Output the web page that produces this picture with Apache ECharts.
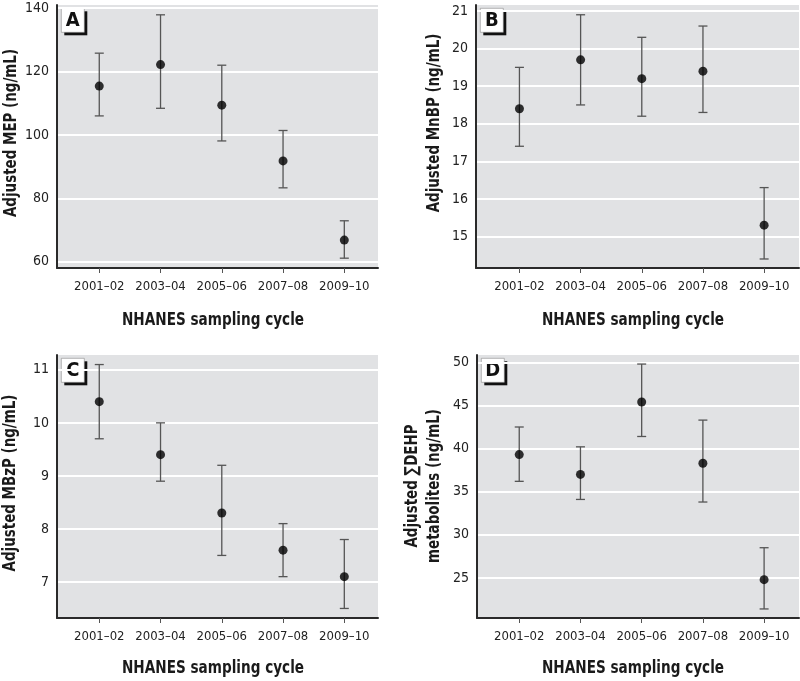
<!DOCTYPE html>
<html><head><meta charset="utf-8">
<script src="https://cdn.jsdelivr.net/npm/echarts@6/dist/echarts.min.js"></script>
<style>html,body{margin:0;padding:0;background:#fff}#c{width:800px;height:681px}</style>
</head><body><div id="c"></div>
<script>
const categories = ['2001–02','2003–04','2005–06','2007–08','2009–10'];
const catIndex = [0,1,2,3,4];

const mepMean = [115.4,122.2,109.4,91.8,66.8];
const mepLow  = [106.0,108.4,98.1,83.3,61.1];
const mepHigh = [125.8,137.9,122.0,101.4,72.9];
const mepTicks = [60,80,100,120,140];

const mnbpMean = [18.4,19.7,19.2,19.4,15.3];
const mnbpLow  = [17.4,18.5,18.2,18.3,14.4];
const mnbpHigh = [19.5,20.9,20.3,20.6,16.3];
const mnbpTicks = [15,16,17,18,19,20,21];

const mbzpMean = [10.4,9.4,8.3,7.6,7.1];
const mbzpLow  = [9.7,8.9,7.5,7.1,6.5];
const mbzpHigh = [11.1,10.0,9.2,8.1,7.8];
const mbzpTicks = [7,8,9,10,11];

const dehpMean = [39.3,37.0,45.4,38.3,24.8];
const dehpLow  = [36.2,34.1,41.4,33.8,21.4];
const dehpHigh = [42.5,40.2,49.8,43.3,28.5];
const dehpTicks = [25,30,35,40,45,50];

const panelLetters = ['A','B','C','D'];
const yTitles = ['Adjusted MEP (ng/mL)','Adjusted MnBP (ng/mL)','Adjusted MBzP (ng/mL)','Adjusted \u2211DEHP\nmetabolites (ng/mL)'];
const xTitle = 'NHANES sampling cycle';

const FONT = '"Liberation Sans Narrow","DejaVu Sans Condensed","Roboto Condensed",sans-serif';

const panels = [
  {mean:mepMean, low:mepLow, high:mepHigh, ticks:mepTicks, ymin:58.0, ymax:141.0, xmin:-0.69, xmax:4.55,
   grid:{left:57, top:5, width:321, height:263}, yT:[11,133], xT:[213,320]},
  {mean:mnbpMean, low:mnbpLow, high:mnbpHigh, ticks:mnbpTicks, ymin:14.16, ymax:21.16, xmin:-0.71, xmax:4.57,
   grid:{left:476, top:5, width:323, height:263}, yT:[434,123], xT:[633,320]},
  {mean:mbzpMean, low:mbzpLow, high:mbzpHigh, ticks:mbzpTicks, ymin:6.32, ymax:11.28, xmin:-0.69, xmax:4.55,
   grid:{left:57, top:355, width:321, height:263}, yT:[10,483], xT:[213,668]},
  {mean:dehpMean, low:dehpLow, high:dehpHigh, ticks:dehpTicks, ymin:20.35, ymax:50.85, xmin:-0.69, xmax:4.57,
   grid:{left:477, top:355, width:322, height:263}, yT:[423,486], xT:[633,668]}
];

const grids = [], xAxes = [], yAxes = [], series = [], graphics = [];
panels.forEach((p, k) => {
  grids.push(Object.assign({show:true, backgroundColor:'#e1e2e4', borderWidth:0, containLabel:false, outerBoundsMode:'none'}, p.grid));
  xAxes.push({
    type:'value', gridIndex:k, min:p.xmin, max:p.xmax,
    axisLine:{show:true, onZero:false, lineStyle:{color:'#2a2a2a', width:2}},
    axisTick:{show:true, inside:false, length:5, customValues:catIndex, lineStyle:{color:'#555', width:1}},
    axisLabel:{customValues:catIndex, margin:12, fontFamily:FONT, fontSize:13, color:'#222',
      formatter:(v)=>categories[Math.round(v)]},
    splitLine:{show:false}
  });
  yAxes.push({
    type:'value', gridIndex:k, min:p.ymin, max:p.ymax,
    axisLine:{show:true, onZero:false, lineStyle:{color:'#2a2a2a', width:2}},
    axisTick:{show:false, customValues:p.ticks},
    axisLabel:{customValues:p.ticks, margin:8, fontFamily:FONT, fontSize:14, color:'#222'},
    splitLine:{show:true, lineStyle:{color:'#ffffff', width:2}}
  });
  series.push({
    type:'custom', xAxisIndex:k, yAxisIndex:k,
    data: catIndex.map(i => [i, p.low[i], p.high[i]]),
    encode:{x:0, y:[1,2]},
    renderItem:(params, api) => {
      const x = api.value(0);
      const a = api.coord([x, api.value(1)]);
      const b = api.coord([x, api.value(2)]);
      const hw = 4.5, st = {stroke:'#555', lineWidth:1.3};
      return {type:'group', children:[
        {type:'line', shape:{x1:b[0], y1:b[1], x2:a[0], y2:a[1]}, style:st},
        {type:'line', shape:{x1:b[0]-hw, y1:b[1], x2:b[0]+hw, y2:b[1]}, style:st},
        {type:'line', shape:{x1:a[0]-hw, y1:a[1], x2:a[0]+hw, y2:a[1]}, style:st}
      ]};
    },
    z:2
  });
  series.push({
    type:'scatter', xAxisIndex:k, yAxisIndex:k, symbol:'circle', symbolSize:9,
    itemStyle:{color:'#000'}, data: catIndex.map(i => [i, p.mean[i]]), z:3
  });
  const bx = p.grid.left + 4, by = p.grid.top + 3;
  graphics.push({type:'group', left:bx, top:by, children:[
    {type:'rect', shape:{x:3, y:3, width:23, height:24}, style:{fill:'#111'}},
    {type:'rect', shape:{x:0, y:0, width:23, height:24}, style:{fill:'#fff', stroke:'#888', lineWidth:0.6}},
    {type:'text', x:11.5, y:12.5, style:{text:panelLetters[k], fontFamily:FONT, fontWeight:'bold', fontSize:20, fill:'#111', align:'center', verticalAlign:'middle'}}
  ]});
  // axis titles (real text, condensed via scale)
  graphics.push({type:'text', x:p.yT[0], y:p.yT[1], rotation:Math.PI/2, scaleX:0.83, scaleY:1,
    style:{text:yTitles[k], fontFamily:FONT, fontWeight:'bold', fontSize:18, lineHeight:22, fill:'#1a1a1a', align:'center', verticalAlign:'middle'}});
  graphics.push({type:'text', x:p.xT[0], y:p.xT[1], scaleX:0.84, scaleY:1,
    style:{text:xTitle, fontFamily:FONT, fontWeight:'bold', fontSize:18, fill:'#1a1a1a', align:'center', verticalAlign:'middle'}});
});

const chart = echarts.init(document.getElementById('c'), null, {renderer:'canvas'});
chart.setOption({
  animation:false,
  backgroundColor:'#fff',
  grid:grids, xAxis:xAxes, yAxis:yAxes, series:series, graphic:graphics
});
</script>
</body></html>
